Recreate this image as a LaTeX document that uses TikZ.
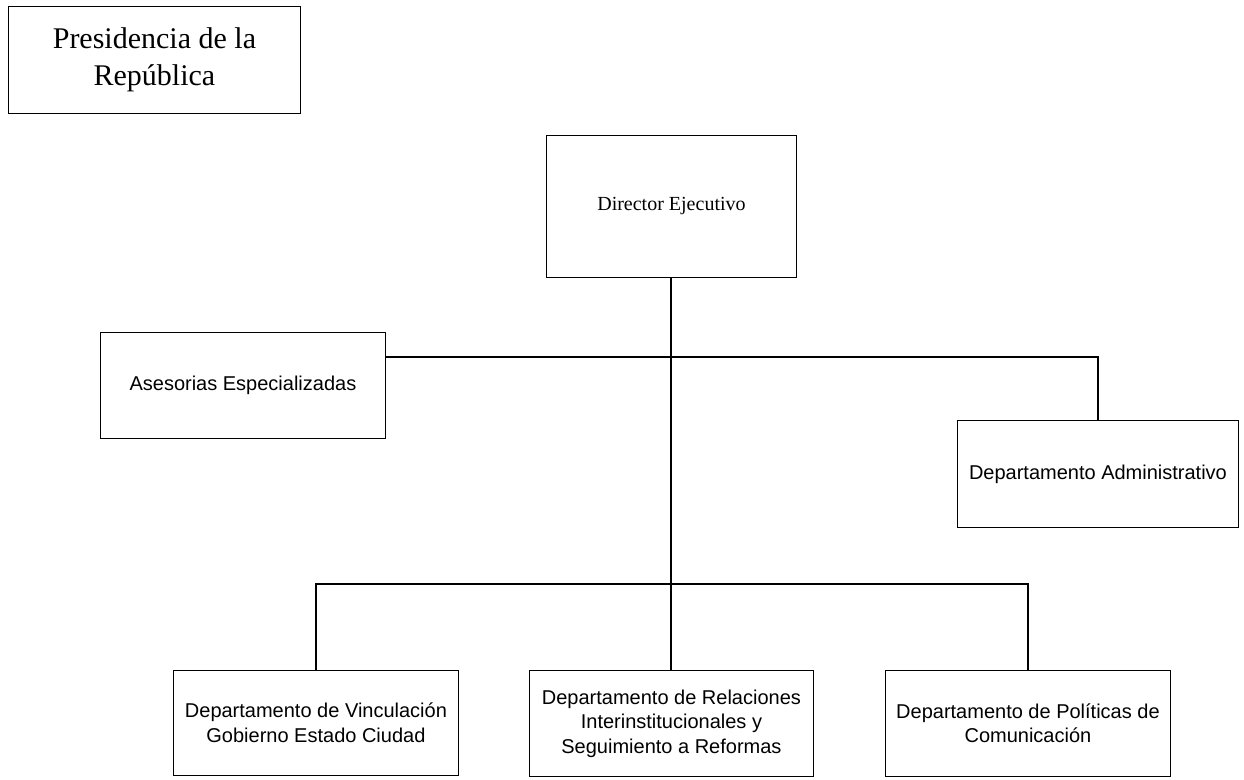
\documentclass[tikz,border=0pt]{standalone}
\usepackage{fontspec}
\setmainfont{Liberation Serif}
\setsansfont{Liberation Sans}
\begin{document}
\begin{tikzpicture}[x=1pt,y=-1pt,
  box/.style={draw, line width=0.9pt, inner sep=0pt, align=center, anchor=north west},
  sbox/.style={box, font=\sffamily\fontsize{20}{24.5}\selectfont},
  conn/.style={draw, line width=2pt}]
\useasboundingbox (0,0) rectangle (1244,779);
\node[box, minimum width=292pt, minimum height=107pt, font=\fontsize{30}{37}\selectfont] (pres) at (8,6) {Presidencia de la\\República};
\node[box, minimum width=250pt, minimum height=142pt, font=\fontsize{20}{24}\selectfont] (dir) at (546,135) {Director Ejecutivo};
\node[sbox, minimum width=285pt, minimum height=106pt] (ases) at (100,332) {Asesorias Especializadas};
\node[sbox, minimum width=281pt, minimum height=107pt] (adm) at (957,420) {Departamento Administrativo};
\node[sbox, minimum width=285pt, minimum height=105pt] (vin) at (173,670) {Departamento de Vinculación\\Gobierno Estado Ciudad};
\node[sbox, minimum width=284pt, minimum height=106pt] (rel) at (529,670) {Departamento de Relaciones\\Interinstitucionales y\\Seguimiento a Reformas};
\node[sbox, minimum width=285pt, minimum height=106pt] (com) at (885,670) {Departamento de Políticas de\\Comunicación};
\coordinate (j1) at (dir.south |- 0,357);
\coordinate (j2) at (dir.south |- 0,584);
\draw[conn] (dir.south) -- (j2);
\draw[conn] (ases.east |- j1) -- (j1) -| (adm.north);
\draw[conn] (vin.north) |- (j2) -| (com.north);
\draw[conn] (j2) -- (rel.north);
\end{tikzpicture}
\end{document}
